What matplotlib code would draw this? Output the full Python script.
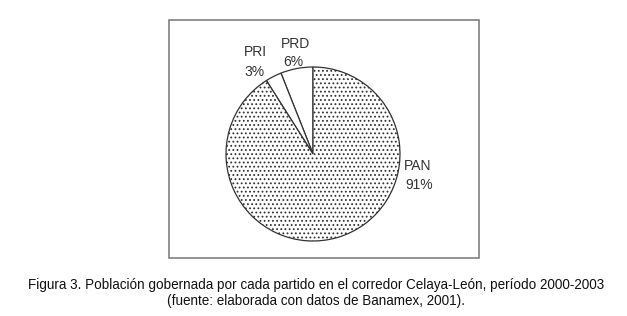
import matplotlib
matplotlib.use("Agg")
import matplotlib.pyplot as plt
from matplotlib.patches import Rectangle

parties = ["PRD", "PRI", "PAN"]
shares = [6, 3, 91]
pct_labels = ["6%", "3%", "91%"]
caption = ["Figura 3. Población gobernada por cada partido en el corredor Celaya-León, período 2000-2003",
           "(fuente: elaborada con datos de Banamex, 2001)."]

plt.rcParams['hatch.linewidth'] = 0.8
plt.rcParams['hatch.color'] = '#666666'

W, H = 627, 316
fig = plt.figure(figsize=(W/100, H/100), dpi=100)
ax = fig.add_axes([0, 0, 1, 1])

ax.add_patch(Rectangle((169, 58), 310, 238, fill=False, edgecolor='#808080', linewidth=1.2))

wedges, _ = ax.pie(shares, startangle=90, counterclock=True, center=(313, 162), radius=87,
                   colors=['white', 'white', 'white'],
                   wedgeprops=dict(edgecolor='#333333', linewidth=0.9))
ax.set_aspect('equal')
ax.set_xlim(0, W)
ax.set_ylim(0, H)
ax.axis('off')
wedges[2].set_hatch('....')

name_pos = {"PRD": (295, 316-44), "PRI": (255, 316-52), "PAN": (418, 316-166)}
pct_pos = {"PRD": (293, 316-62), "PRI": (254, 316-72), "PAN": (419, 316-185)}
for p, l in zip(parties, pct_labels):
    ax.text(*name_pos[p], p, ha='center', va='center', fontsize=10, color='#333333',
            family='Liberation Sans')
    ax.text(*pct_pos[p], l, ha='center', va='center', fontsize=10, color='#333333',
            family='Liberation Sans')

for i, line in enumerate(caption):
    t = ax.text(316, 316-285-16*i, line, ha='center', va='center', fontsize=9.75,
                family='Liberation Sans', color='#111111')

fig.savefig("out.png", dpi=100)
